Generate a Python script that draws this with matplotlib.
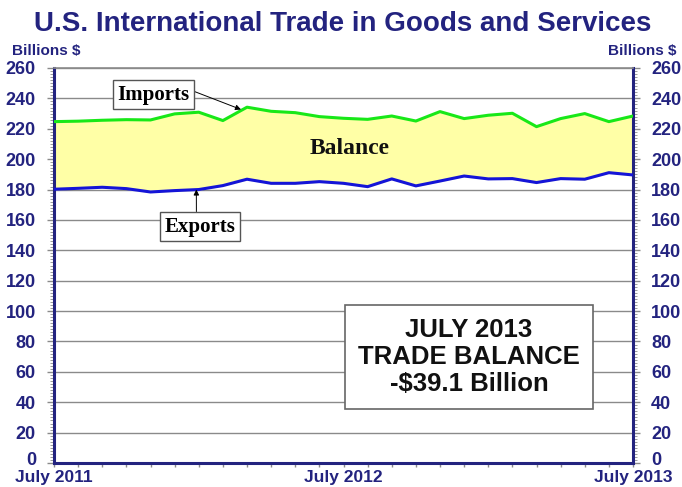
import matplotlib
matplotlib.use("Agg")
import matplotlib.pyplot as plt
from matplotlib.ticker import MultipleLocator, FixedLocator
from matplotlib.transforms import ScaledTranslation
import numpy as np

months = ["Jul 2011", "Aug 2011", "Sep 2011", "Oct 2011", "Nov 2011", "Dec 2011",
          "Jan 2012", "Feb 2012", "Mar 2012", "Apr 2012", "May 2012", "Jun 2012",
          "Jul 2012", "Aug 2012", "Sep 2012", "Oct 2012", "Nov 2012", "Dec 2012",
          "Jan 2013", "Feb 2013", "Mar 2013", "Apr 2013", "May 2013", "Jun 2013",
          "Jul 2013"]
imports = [224.7, 225.0, 225.6, 226.0, 225.8, 229.8, 230.9, 225.4, 234.2, 231.5,
           230.6, 228.0, 226.9, 226.2, 228.4, 225.1, 231.3, 226.7, 228.9, 230.2,
           221.4, 226.7, 230.0, 224.7, 228.4]
exports = [180.2, 180.8, 181.5, 180.6, 178.4, 179.3, 180.0, 182.6, 186.8, 184.1,
           184.1, 185.2, 184.1, 181.9, 187.0, 182.4, 185.6, 188.9, 187.0, 187.2,
           184.6, 187.2, 186.8, 191.1, 189.6]
xtick_labels = ["July 2011", "July 2012", "July 2013"]
ytick_values = list(range(0, 261, 20))

NAVY = "#23237f"
x = np.arange(len(months))

fig = plt.figure(figsize=(6.82, 4.87), dpi=100)
ax = fig.add_axes([54/682, 24/487, (633-54)/682, (463-68)/487])

ax.fill_between(x, exports, imports, color="#ffffa6", zorder=1)
ax.plot(x, imports, color="#18e818", lw=2.2, zorder=3)
ax.plot(x, exports, color="#1414d8", lw=2.2, zorder=3)

ax.set_xlim(0, len(months) - 1)
ax.set_ylim(0, 260)
for v in ytick_values[1:]:
    ax.axhline(v, color="#8a8a8a", lw=1.0, zorder=0.5)

ax.yaxis.set_major_locator(FixedLocator(ytick_values))
ax.yaxis.set_minor_locator(MultipleLocator(2))
ax.tick_params(axis="y", which="major", direction="out", length=5, width=1,
               color="#8a8a8a", labelsize=13, labelcolor=NAVY, pad=8,
               left=True, right=True, labelleft=True, labelright=True)
ax.tick_params(axis="y", which="minor", direction="out", length=3, width=0.6,
               color="#8a8a8a", left=True, right=True)

ax.xaxis.set_major_locator(FixedLocator([0, 12, 24]))
ax.xaxis.set_minor_locator(FixedLocator(list(x)))
ax.set_xticklabels(xtick_labels, fontsize=12.5, fontweight="bold", color=NAVY,
                   family="Liberation Sans")
ax.tick_params(axis="x", which="both", direction="out", length=3, width=1,
               color="#8a8a8a", pad=2)

yticks = ax.yaxis.get_major_ticks()
for t in yticks:
    for lab in (t.label1, t.label2):
        lab.set_fontweight("bold")
        lab.set_family("Liberation Sans")
# nudge the two "0" labels up slightly so they clear the date labels
shift = ScaledTranslation(0, 3/72, fig.dpi_scale_trans)
yticks[0].label1.set_transform(yticks[0].label1.get_transform() + shift)
yticks[0].label2.set_transform(yticks[0].label2.get_transform() + shift)

for side in ["left", "right", "bottom"]:
    ax.spines[side].set_color(NAVY)
    ax.spines[side].set_linewidth(2.2)
ax.spines["top"].set_color("#8a8a8a")
ax.spines["top"].set_linewidth(1.2)

fig.text(343/682, 0.950, "U.S. International Trade in Goods and Services",
         ha="center", va="center", fontsize=20, fontweight="bold", color=NAVY,
         family="Liberation Sans")
fig.text(12/682, 1 - 51/487, "Billions $", ha="left", va="center", fontsize=11,
         fontweight="bold", color=NAVY, family="Liberation Sans")
fig.text(677/682, 1 - 51/487, "Billions $", ha="right", va="center", fontsize=11,
         fontweight="bold", color=NAVY, family="Liberation Sans")

box = dict(boxstyle="square,pad=0.22", fc="white", ec="#555555", lw=1)
ax.annotate("Imports", xy=(7.75, imports[8] - 1.5), xytext=(4.12, 242.5),
            ha="center", va="center", fontsize=15, fontweight="bold",
            family="Liberation Serif", bbox=box,
            arrowprops=dict(arrowstyle="-|>", color="black", lw=0.7,
                            mutation_scale=8, shrinkA=0, shrinkB=0,
                            relpos=(1.0, 0.75)))
ax.annotate("Exports", xy=(5.9, 180.0), xytext=(6.05, 155.5),
            ha="center", va="center", fontsize=15, fontweight="bold",
            family="Liberation Serif", bbox=box,
            arrowprops=dict(arrowstyle="-|>", color="black", lw=0.7,
                            mutation_scale=8, shrinkA=0, shrinkB=0,
                            relpos=(0.45, 1.0)))
ax.text(12.25, 207, "Balance", ha="center", va="center", fontsize=17,
        fontweight="bold", family="Liberation Serif", color="#111111", zorder=4)

ax.text(17.2, 69.8, "JULY 2013\nTRADE BALANCE\n-$39.1 Billion", ha="center",
        va="center", fontsize=18.5, fontweight="bold", family="Liberation Sans",
        linespacing=1.15, color="#111111", zorder=5,
        bbox=dict(boxstyle="square,pad=0.5", fc="white", ec="#666666", lw=1.2))

fig.savefig("out.png", dpi=100)
